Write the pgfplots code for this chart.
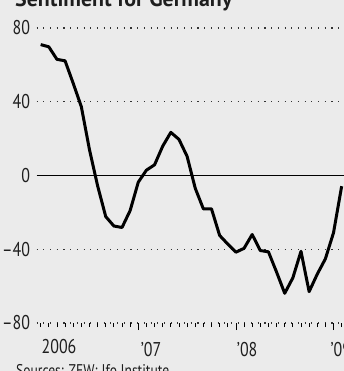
\documentclass[border=0pt]{standalone}
\usepackage{fontspec}
\setmainfont{PT Sans}[FakeStretch=0.8]
\newfontfamily\tfont{PT Sans}
\usepackage{pgfplots}
\pgfplotsset{compat=1.18}
\definecolor{bg}{RGB}{235,235,235}
\definecolor{txt}{RGB}{30,30,30}
\begin{document}
\begin{tikzpicture}
\fill[bg] (0,0) rectangle (344bp,371bp);
\path[use as bounding box] (0,0) rectangle (344bp,371bp);
\clip (0,0) rectangle (344bp,371bp);
\node[anchor=base west, inner sep=0pt, font=\tfont\fontsize{22}{22}\selectfont\bfseries, text=txt] at (15bp,364bp) {Sentiment for Germany};
\node[anchor=north west, inner sep=0pt, font=\fontsize{17}{17}\selectfont, text=txt] at (16bp,7bp) {Sources: ZEW; Ifo Institute};
\begin{axis}[
  at={(36.6bp,48bp)}, anchor=south west,
  scale only axis, width=307.5bp, height=295bp,
  xmin=-0.5, xmax=37.3, ymin=-80, ymax=80,
  axis line style={draw=none},
  clip=false,
  ticklabel style={font=\fontsize{20}{20}\selectfont, text=txt},
  /pgf/number format/assume math mode=true,
  ytick={-80,-40,40,80},
  yticklabels={–80,–40,40,80},
  extra y ticks={0},
  extra y tick labels={0},
  extra y tick style={grid style={solid, black, line width=1.1bp}},
  ymajorgrids,
  grid style={black!80, line width=1.2bp, dash pattern=on 1.1bp off 5.6bp},
  ytick style={draw=none},
  yticklabel style={anchor=east, xshift=4bp},
  xtick={12,24,36},
  xticklabels={\hspace{1.5bp}’07,’08,\hspace{-4bp}’09},
  extra x ticks={0},
  extra x tick labels={2006},
  extra x tick style={major tick length=4bp, grid=none},
  minor xtick={1,2,3,4,5,6,7,8,9,10,11,13,14,15,16,17,18,19,20,21,22,23,25,26,27,28,29,30,31,32,33,34,35,37},
  xtick pos=bottom, tick align=outside,
  major tick length=7bp, minor tick length=4bp,
  xtick style={black, line width=0.8bp},
  minor tick style={black, line width=0.8bp},
  xticklabel style={anchor=north west, xshift=-2.5bp, yshift=-9bp},
]
\addplot[black, line width=3bp, line join=round] coordinates {
(0,71.0) (1,69.8) (2,63.0) (3,62.2) (4,50.0) (5,37.3) (6,14.0) (7,-5.6)
(8,-22.3) (9,-27.4) (10,-28.2) (11,-19.0)
(12,-3.6) (13,2.9) (14,5.8) (15,15.9) (16,23.4) (17,19.6) (18,10.4) (19,-6.9)
(20,-18.1) (21,-18.1) (22,-32.5) (23,-37.2)
(24,-41.6) (25,-39.5) (26,-32.0) (27,-40.7) (28,-41.4) (29,-52.4) (30,-63.9) (31,-55.5)
(32,-41.1) (33,-63.0) (34,-53.5) (35,-45.2)
(36,-31.0) (37,-5.8)
};
\end{axis}
\end{tikzpicture}
\end{document}
